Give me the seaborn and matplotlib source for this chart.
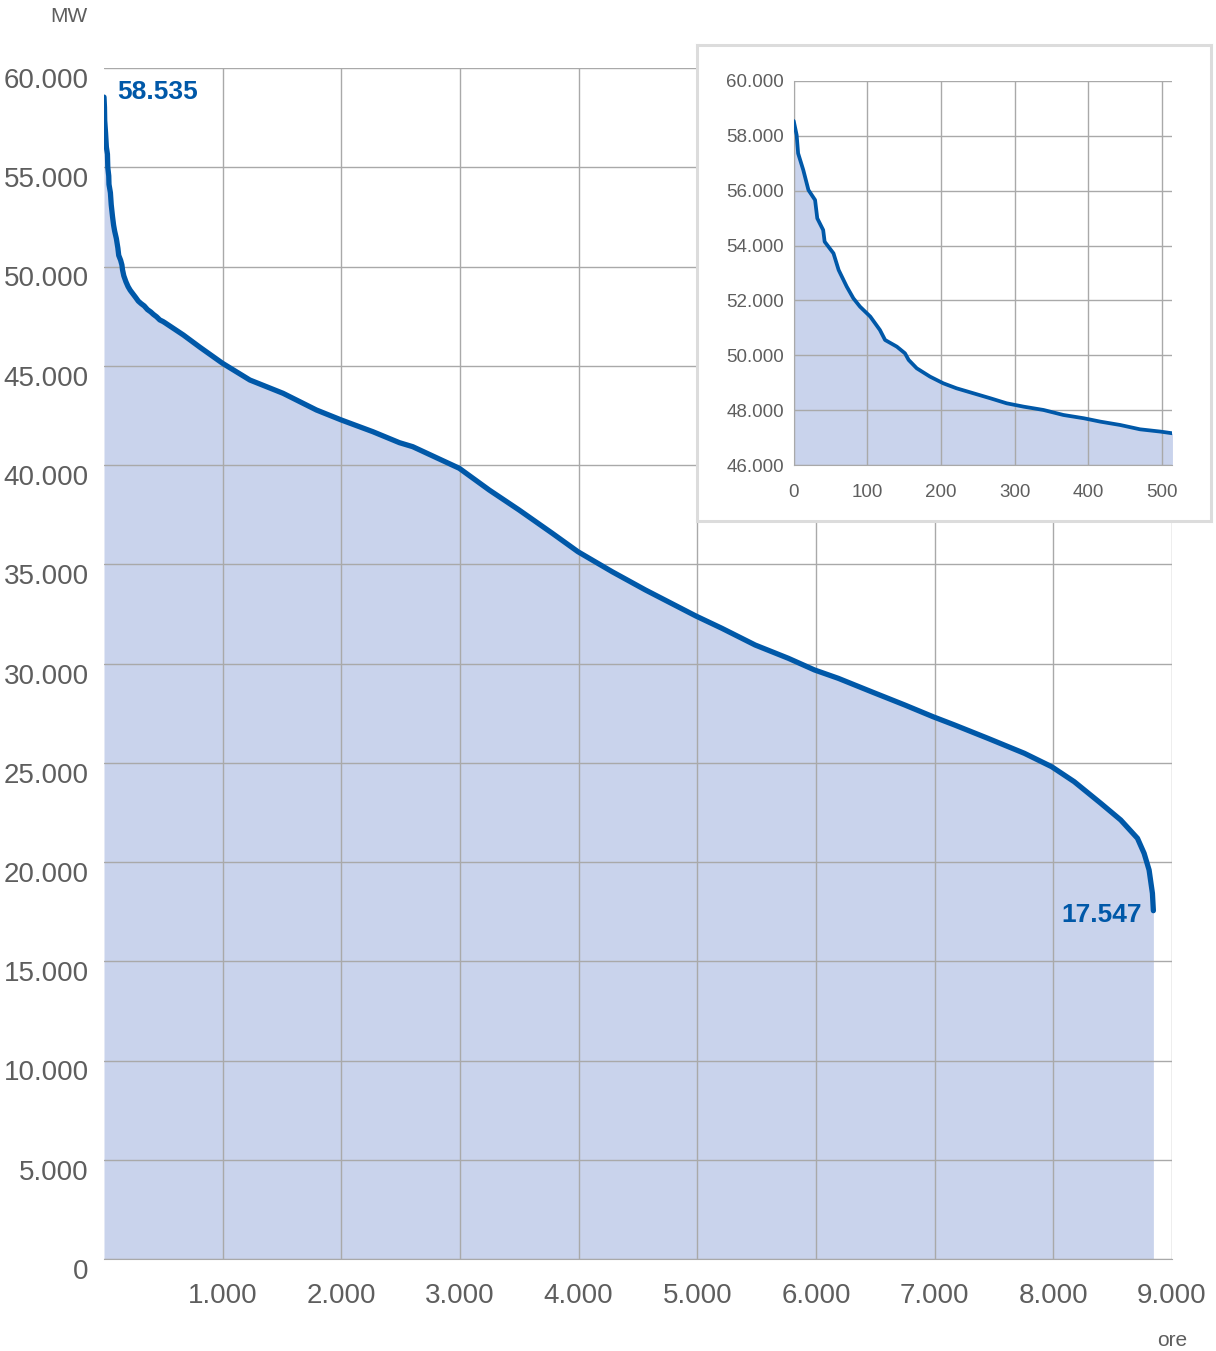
import matplotlib
matplotlib.use("Agg")
import matplotlib.pyplot as plt
import matplotlib.transforms as mtransforms
from matplotlib.ticker import FuncFormatter
import pandas as pd
import seaborn as sns

# curva di durata del carico
ore = [0, 4, 6, 13, 20, 29, 32, 40, 42, 54, 61, 72, 81, 90, 104, 117, 124,
       140, 151, 156, 167, 185, 203, 221, 244, 267, 289, 312, 339, 366, 394,
       416, 443, 470, 498, 514, 669, 809, 1000, 1229, 1509, 1790, 2000, 2266,
       2490, 2602, 2994, 3246, 3498, 3778, 3994, 4282, 4563, 4988, 5207, 5487,
       5767, 5988, 6187, 6467, 6748, 6986, 7168, 7448, 7756, 7986, 8176, 8400,
       8568, 8709, 8765, 8807, 8835, 8843]
mw = [58535, 58023, 57355, 56749, 56021, 55657, 54990, 54565, 54140, 53716,
      53109, 52503, 52078, 51775, 51411, 50926, 50562, 50319, 50077, 49835,
      49531, 49228, 48985, 48803, 48621, 48439, 48257, 48135, 48014, 47832,
      47711, 47590, 47468, 47310, 47226, 47165, 46549, 45930, 45120, 44282,
      43612, 42771, 42267, 41677, 41124, 40922, 39834, 38741, 37733, 36559,
      35632, 34625, 33703, 32393, 31773, 30932, 30262, 29673, 29255, 28579,
      27910, 27320, 26902, 26232, 25476, 24801, 24046, 22957, 22116, 21194,
      20438, 19597, 18423, 17547]

main_xticks = [1000, 2000, 3000, 4000, 5000, 6000, 7000, 8000, 9000]
main_yticks = list(range(0, 60001, 5000))
inset_xticks = [0, 100, 200, 300, 400, 500]
inset_yticks = list(range(46000, 60001, 2000))

df = pd.DataFrame({"ore": ore, "MW": mw})
df_zoom = df[df["ore"] <= 514]

LINE = "#0058a8"
FILL = "#c9d3ec"
GRID = "#a9a9a9"
TEXT = "#5e5e5e"

sns.set_style("white")
plt.rcParams["font.family"] = ["Liberation Sans", "DejaVu Sans"]

fmt = FuncFormatter(lambda v, p: f"{int(v):,}".replace(",", "."))

fig = plt.figure(figsize=(12.16, 13.51), dpi=100)

# grafico principale
ax = fig.add_axes([104 / 1216, 92 / 1351, 1068 / 1216, 1191 / 1351])
ax.fill_between(df["ore"], 0, df["MW"], color=FILL, lw=0, zorder=1)
sns.lineplot(data=df, x="ore", y="MW", ax=ax, color=LINE, lw=3.8,
             estimator=None, zorder=3)
ax.set_xlim(0, 9000)
ax.set_ylim(0, 60000)
ax.set_xticks(main_xticks)
ax.set_yticks(main_yticks)
ax.xaxis.set_major_formatter(fmt)
ax.yaxis.set_major_formatter(fmt)
ax.grid(True, color=GRID, lw=1.0, zorder=2)
ax.set_axisbelow(False)
for s in ["left", "top", "right"]:
    ax.spines[s].set_visible(False)
ax.spines["bottom"].set_color(GRID)
ax.tick_params(length=0, labelsize=20, labelcolor=TEXT)
ax.tick_params(axis="x", pad=17.5)
ax.tick_params(axis="y", pad=11)
ax.set_xlabel("")
ax.set_ylabel("")
shift = mtransforms.ScaledTranslation(0, -0.10, fig.dpi_scale_trans)
for lab in ax.get_yticklabels():
    lab.set_transform(lab.get_transform() + shift)

ax.annotate("58.535", xy=(ore[0], mw[0]), xytext=(9.5, 3.5),
            textcoords="offset points", ha="left", va="center",
            fontsize=19, fontweight="bold", color=LINE)
ax.annotate("17.547", xy=(ore[-1], mw[-1]), xytext=(-8, -3),
            textcoords="offset points", ha="right", va="center",
            fontsize=19, fontweight="bold", color=LINE)

fig.text(88 / 1216, 1 - 17 / 1351, "MW", ha="right", va="center",
         fontsize=15, color=TEXT)
fig.text(1172 / 1216, 10 / 1351, "ore", ha="center", va="center",
         fontsize=15, color=TEXT)

# riquadro ingrandimento prime 500 ore
box = fig.add_axes([697 / 1216, 830 / 1351, 514 / 1216, 476 / 1351],
                   zorder=3)
box.set_facecolor("white")
box.set_xticks([])
box.set_yticks([])
for s in box.spines.values():
    s.set_color("#dcdcdc")
    s.set_linewidth(2.2)

ins = fig.add_axes([793.7 / 1216, 885.7 / 1351, 378 / 1216, 384.6 / 1351],
                   zorder=4)
ins.fill_between(df_zoom["ore"], 46000, df_zoom["MW"], color=FILL, lw=0,
                 zorder=1)
sns.lineplot(data=df_zoom, x="ore", y="MW", ax=ins, color=LINE, lw=2.7,
             estimator=None, zorder=3)
ins.set_xlim(0, 513)
ins.set_ylim(46000, 60000)
ins.set_xticks(inset_xticks)
ins.set_yticks(inset_yticks)
ins.xaxis.set_major_formatter(fmt)
ins.yaxis.set_major_formatter(fmt)
ins.grid(True, color=GRID, lw=1.0, zorder=2)
ins.set_axisbelow(False)
for s in ["top", "right"]:
    ins.spines[s].set_visible(False)
for s in ["left", "bottom"]:
    ins.spines[s].set_color(GRID)
ins.tick_params(length=0, labelsize=13.5, labelcolor=TEXT)
ins.tick_params(axis="x", pad=13.5)
ins.tick_params(axis="y", pad=7)
ins.set_xlabel("")
ins.set_ylabel("")

fig.savefig("out.png", dpi=100)
